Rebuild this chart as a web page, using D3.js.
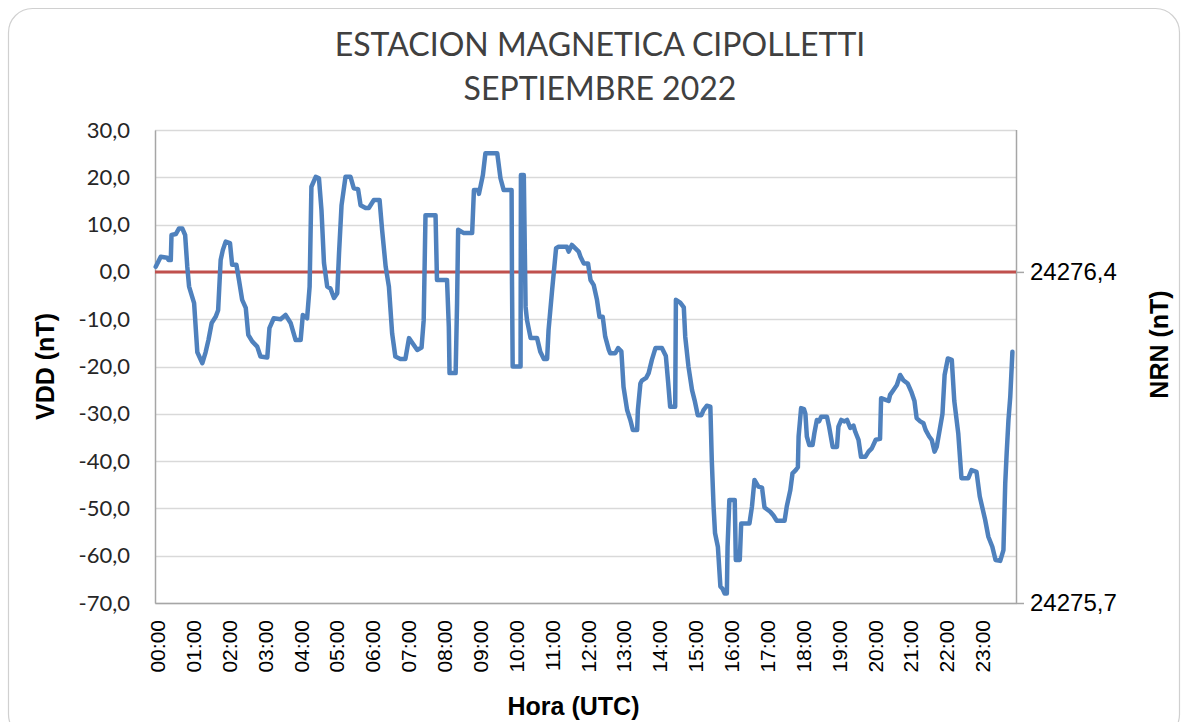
<!DOCTYPE html>
<html>
<head>
<meta charset="utf-8">
<script src="https://cdn.jsdelivr.net/npm/d3@7"></script>
<style>
  html, body { margin: 0; padding: 0; background: #ffffff; }
  svg { display: block; }
</style>
</head>
<body>
<div id="chart"></div>
<script>
// titles
var TITLE_LINES = ['ESTACION MAGNETICA CIPOLLETTI', 'SEPTIEMBRE 2022'];
var X_TITLE = 'Hora (UTC)';
var Y_TITLE = 'VDD (nT)';
var Y2_TITLE = 'NRN (nT)';

// x axis: hour of day (decimal hours) and its tick labels
var horaTicks = [0, 1, 2, 3, 4, 5, 6, 7, 8, 9, 10, 11, 12, 13, 14, 15, 16, 17, 18, 19, 20, 21, 22, 23];
var horaLabels = ['00:00', '01:00', '02:00', '03:00', '04:00', '05:00', '06:00', '07:00',
  '08:00', '09:00', '10:00', '11:00', '12:00', '13:00', '14:00', '15:00', '16:00', '17:00',
  '18:00', '19:00', '20:00', '21:00', '22:00', '23:00'];

// left axis ticks (nT)
var vddTicks = [-70, -60, -50, -40, -30, -20, -10, 0, 10, 20, 30];
// right axis: bottom value and base level (nT)
var nrnTicks = [24275.7, 24276.4];
var nrnBase = 24276.4;

// series: time (hours UTC) and VDD (nT)
var hora = [0.02, 0.16, 0.34, 0.38, 0.44, 0.46, 0.58, 0.67, 0.76, 0.84, 0.90, 0.95, 1.09, 1.18, 1.32,
  1.41, 1.49, 1.58, 1.69, 1.76, 1.83, 1.89, 1.97, 2.09, 2.15, 2.27, 2.34, 2.43, 2.53, 2.60, 2.71,
  2.85, 2.94, 3.13, 3.19, 3.31, 3.50, 3.64, 3.78, 3.92, 4.06, 4.12, 4.24, 4.31, 4.36, 4.48, 4.57,
  4.64, 4.71, 4.80, 4.89, 4.99, 5.08, 5.13, 5.20, 5.31, 5.45, 5.54, 5.66, 5.73, 5.87, 5.96, 6.10,
  6.26, 6.33, 6.43, 6.52, 6.61, 6.70, 6.84, 6.98, 7.08, 7.17, 7.31, 7.43, 7.49, 7.54, 7.82, 7.86,
  8.14, 8.19, 8.21, 8.38, 8.42, 8.45, 8.61, 8.84, 8.89, 9.01, 9.03, 9.14, 9.21, 9.54, 9.63, 9.72,
  9.94, 9.95, 9.97, 10.19, 10.20, 10.28, 10.33, 10.37, 10.47, 10.65, 10.74, 10.84, 10.93, 10.97,
  11.07, 11.18, 11.25, 11.48, 11.53, 11.62, 11.81, 11.86, 11.95, 12.07, 12.14, 12.23, 12.32, 12.39,
  12.48, 12.55, 12.65, 12.69, 12.83, 12.91, 13.00, 13.06, 13.16, 13.25, 13.32, 13.44, 13.46, 13.53,
  13.57, 13.69, 13.76, 13.85, 13.95, 14.13, 14.24, 14.30, 14.36, 14.50, 14.52, 14.64, 14.74, 14.78,
  14.87, 14.97, 15.04, 15.13, 15.23, 15.29, 15.38, 15.48, 15.52, 15.57, 15.61, 15.69, 15.76, 15.82,
  15.88, 15.94, 15.96, 16.01, 16.16, 16.19, 16.30, 16.34, 16.57, 16.64, 16.71, 16.82, 16.92, 16.99,
  17.15, 17.24, 17.33, 17.55, 17.61, 17.71, 17.77, 17.86, 17.92, 17.94, 18.01, 18.09, 18.13, 18.17,
  18.24, 18.33, 18.38, 18.45, 18.51, 18.57, 18.73, 18.79, 18.89, 19.01, 19.05, 19.13, 19.22, 19.29,
  19.38, 19.47, 19.52, 19.61, 19.68, 19.80, 19.89, 19.98, 20.09, 20.21, 20.24, 20.35, 20.45, 20.49,
  20.58, 20.68, 20.77, 20.86, 20.98, 21.08, 21.17, 21.23, 21.33, 21.42, 21.48, 21.58, 21.65, 21.73,
  21.79, 21.88, 21.95, 22.01, 22.10, 22.21, 22.28, 22.39, 22.48, 22.67, 22.76, 22.90, 22.99, 23.14,
  23.23, 23.34, 23.43, 23.56, 23.65, 23.70, 23.74, 23.79, 23.84, 23.90];
var vdd = [1.1, 3.2, 3.0, 2.5, 2.5, 7.8, 8.0, 9.2, 9.2, 7.8, 1.1, -3.1, -6.6, -17.0, -19.3,
  -17.0, -14.4, -10.8, -9.5, -8.1, 2.5, 4.6, 6.4, 6.1, 1.5, 1.5, -1.7, -5.9, -7.6, -13.3, -14.7,
  -15.8, -17.9, -18.1, -11.9, -9.8, -10.0, -9.1, -10.8, -14.4, -14.4, -9.1, -9.8, -3.1, 18.0, 20.1, 19.8,
  13.1, 1.9, -3.1, -3.5, -5.5, -4.5, 4.0, 14.1, 20.1, 20.1, 17.7, 17.5, 14.1, 13.5, 13.5, 15.2,
  15.2, 8.9, 1.1, -3.1, -13.0, -17.9, -18.4, -18.4, -14.0, -15.0, -16.5, -16.0, -10.2, 12.0, 12.0, -1.7,
  -1.7, -11.6, -21.4, -21.4, -6.6, 8.9, 8.2, 8.2, 17.3, 17.3, 16.5, 20.5, 25.1, 25.1, 19.8, 17.3,
  17.3, -1.0, -20.0, -20.0, 20.5, 20.5, -7.4, -10.2, -14.0, -14.0, -16.9, -18.4, -18.4, -12.3,
  -3.8, 5.0, 5.3, 5.3, 4.3, 5.7, 4.3, 3.2, 1.8, 1.8, -1.7, -2.8, -5.9, -9.5,
  -9.5, -13.7, -16.5, -17.2, -17.2, -16.1, -16.8, -24.3, -29.2, -31.3, -33.4, -33.4, -29.2, -23.6,
  -23.0, -22.4, -21.4, -18.6, -16.1, -16.1, -17.8, -23.0, -28.5, -28.5, -5.9, -6.5, -7.5, -13.7,
  -20.0, -25.0, -27.1, -30.3, -30.3, -29.2, -28.3, -28.5, -39.8, -49.6, -55.2, -58.1, -66.5, -67.0,
  -68.0, -68.0, -58.1, -48.2, -48.2, -60.9, -60.9, -53.2, -53.2, -49.6, -44.0, -45.4, -45.6, -49.8,
  -50.7, -51.5, -52.6, -52.6, -49.6, -46.1, -42.6, -41.9, -41.3, -34.8, -28.8, -29.0, -30.0, -34.8,
  -36.6, -36.6, -34.1, -31.3, -31.6, -30.6, -30.6, -32.7, -37.0, -37.0, -32.7, -31.3, -31.6, -31.3,
  -33.0, -32.5, -33.8, -35.5, -39.1, -39.1, -38.0, -37.3, -35.5, -35.3, -26.7, -27.0, -27.3, -26.0,
  -25.0, -23.9, -21.8, -22.9, -23.6, -25.3, -27.3, -30.9, -31.6, -32.0, -33.4, -34.8, -35.5, -38.0,
  -37.0, -33.1, -30.0, -21.8, -18.3, -18.6, -27.3, -34.1, -43.6, -43.6, -41.9, -42.3, -47.5, -52.4,
  -56.0, -58.1, -60.9, -61.1, -58.8, -44.7, -38.3, -31.3, -26.4, -16.9];

var WIDTH = 1186;
var HEIGHT = 722;
var PLOT = { left: 155, right: 1016, top: 130, bottom: 603 };

var BLUE = '#4f81bd';
var RED = '#c0504d';
var GRID = '#d9d9d9';
var AXIS = '#a6a6a6';

// comma decimals and a plain hyphen as minus, as in the source chart
var es = d3.formatLocale({ decimal: ',', thousands: '.', grouping: [3], currency: ['$', ''], minus: '-' });
var fmt1 = es.format('.1f');

var svg = d3.select('#chart').append('svg')
  .attr('width', WIDTH)
  .attr('height', HEIGHT);

// chart frame
svg.append('rect')
  .attr('x', 8.5).attr('y', 8.5)
  .attr('width', 1171).attr('height', 730)
  .attr('rx', 24).attr('ry', 24)
  .attr('fill', '#ffffff')
  .attr('stroke', '#d0d0d0')
  .attr('stroke-width', 1.2);

var xScale = d3.scaleLinear().domain([0, 24]).range([PLOT.left, PLOT.right]);
var yScale = d3.scaleLinear().domain([-70, 30]).range([PLOT.bottom, PLOT.top]);
var y2Scale = d3.scaleLinear().domain(nrnTicks).range([PLOT.bottom, yScale(0)]);

// gridlines
svg.append('g')
  .selectAll('line')
  .data(vddTicks)
  .enter().append('line')
  .attr('x1', PLOT.left).attr('x2', PLOT.right)
  .attr('y1', function (d) { return Math.round(yScale(d)) + 0.5; })
  .attr('y2', function (d) { return Math.round(yScale(d)) + 0.5; })
  .attr('stroke', GRID)
  .attr('stroke-width', 1.5);

// left axis
var yAxis = svg.append('g')
  .attr('transform', 'translate(' + PLOT.left + ',0)')
  .call(d3.axisLeft(yScale).tickValues(vddTicks).tickSize(0).tickPadding(25)
    .tickFormat(function (d) { return fmt1(d); }));
yAxis.select('.domain').attr('stroke', AXIS).attr('stroke-width', 1.5);
yAxis.selectAll('text')
  .attr('font-family', 'Lato, "Open Sans", sans-serif')
  .attr('font-size', 22)
  .attr('fill', '#262626');

// right axis
var y2Axis = svg.append('g')
  .attr('transform', 'translate(' + PLOT.right + ',0)')
  .call(d3.axisRight(y2Scale).tickValues(nrnTicks).tickSize(8).tickPadding(6)
    .tickFormat(function (d) { return fmt1(d); }));
y2Axis.select('.domain')
  .attr('d', 'M0.5,' + PLOT.top + 'V' + PLOT.bottom)
  .attr('stroke', AXIS).attr('stroke-width', 1.5);
y2Axis.selectAll('line').attr('stroke', AXIS).attr('stroke-width', 1.5);
y2Axis.selectAll('text')
  .attr('font-family', '"Liberation Sans", Arial, sans-serif')
  .attr('font-size', 24)
  .attr('fill', '#000000');

// bottom axis
var xAxis = svg.append('g')
  .attr('transform', 'translate(0,' + PLOT.bottom + ')')
  .call(d3.axisBottom(xScale).tickValues(horaTicks).tickSize(0)
    .tickFormat(function (d, i) { return horaLabels[i]; }));
xAxis.select('.domain').attr('stroke', AXIS).attr('stroke-width', 1.5);
xAxis.selectAll('text')
  .attr('font-family', '"Liberation Sans", Arial, sans-serif')
  .attr('font-size', 21)
  .attr('fill', '#000000')
  .attr('text-anchor', 'end')
  .attr('transform', 'rotate(-90)')
  .attr('x', -17)
  .attr('y', 2)
  .attr('dy', '0.36em');

// reference line (NRN base level)
svg.append('line')
  .attr('x1', PLOT.left).attr('x2', PLOT.right)
  .attr('y1', y2Scale(nrnBase)).attr('y2', y2Scale(nrnBase))
  .attr('stroke', RED)
  .attr('stroke-width', 3);

// VDD series
var points = hora.map(function (h, i) { return [h, vdd[i]]; });
var line = d3.line()
  .x(function (d) { return xScale(d[0]); })
  .y(function (d) { return yScale(d[1]); });
svg.append('path')
  .datum(points)
  .attr('d', line)
  .attr('fill', 'none')
  .attr('stroke', BLUE)
  .attr('stroke-width', 4.5)
  .attr('stroke-linejoin', 'round')
  .attr('stroke-linecap', 'round');

// chart title
svg.append('g')
  .attr('font-family', 'Lato, "Open Sans", sans-serif')
  .attr('font-size', 32)
  .attr('fill', '#404040')
  .attr('text-anchor', 'middle')
  .selectAll('text')
  .data(TITLE_LINES)
  .enter().append('text')
  .attr('x', 600)
  .attr('y', function (d, i) { return 56 + i * 44; })
  .text(function (d) { return d; });

// axis titles
svg.append('text')
  .attr('transform', 'translate(' + ((PLOT.left + PLOT.right) / 2 - 12) + ',715)')
  .attr('text-anchor', 'middle')
  .attr('font-family', '"Liberation Sans", Arial, sans-serif')
  .attr('font-weight', 'bold')
  .attr('font-size', 25)
  .text(X_TITLE);

svg.append('text')
  .attr('transform', 'translate(54,' + ((PLOT.top + PLOT.bottom) / 2) + ') rotate(-90)')
  .attr('text-anchor', 'middle')
  .attr('font-family', '"Liberation Sans", Arial, sans-serif')
  .attr('font-weight', 'bold')
  .attr('font-size', 25)
  .text(Y_TITLE);

svg.append('text')
  .attr('transform', 'translate(1168,' + ((PLOT.top + PLOT.bottom) / 2 - 22) + ') rotate(-90)')
  .attr('text-anchor', 'middle')
  .attr('font-family', '"Liberation Sans", Arial, sans-serif')
  .attr('font-weight', 'bold')
  .attr('font-size', 25)
  .text(Y2_TITLE);
</script>
</body>
</html>
